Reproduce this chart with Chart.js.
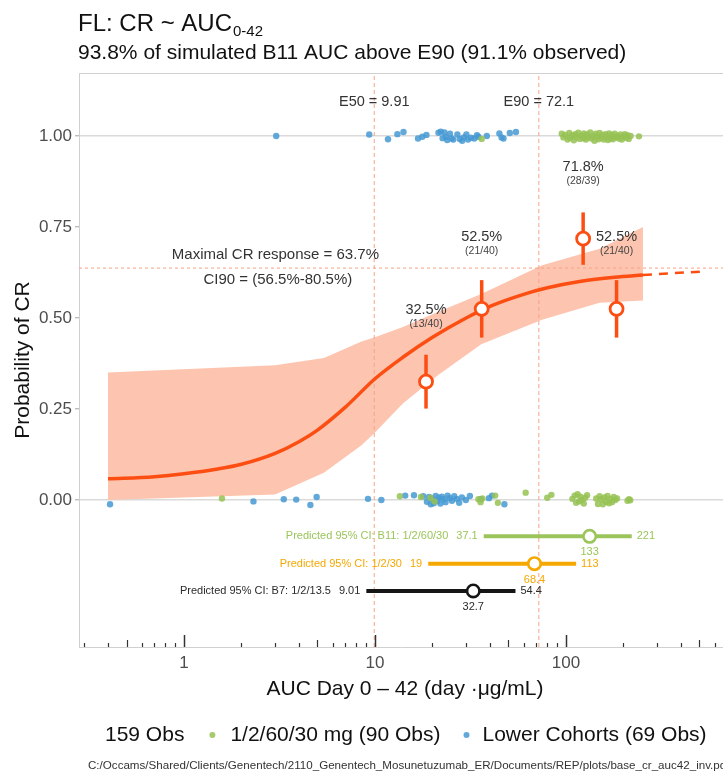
<!DOCTYPE html>
<html>
<head>
<meta charset="utf-8">
<script src="https://cdn.jsdelivr.net/npm/chart.js@4.4.1/dist/chart.umd.min.js"></script>
<style>
  html, body { margin: 0; padding: 0; background: #ffffff; }
  #wrap { width: 723px; height: 779px; position: relative; }
</style>
</head>
<body>
<div id="wrap"><canvas id="chart"></canvas></div>
<script>
const FONT = '"Liberation Sans", Arial, Helvetica, sans-serif';

// Model-predicted probability of CR versus AUC (median curve)
const curveAUC = [0.4, 0.7, 1, 1.5, 2, 3, 4, 5, 7, 10, 14, 20, 30, 40, 60, 80, 120, 180, 253];
const curveP   = [0.058, 0.064, 0.072, 0.085, 0.098, 0.128, 0.16, 0.192, 0.255, 0.333, 0.392, 0.447, 0.5, 0.532, 0.565, 0.583, 0.601, 0.612, 0.618];

// Uncertainty ribbon around the curve
const bandAUC = [0.4, 3, 5.4, 8.5, 10, 14, 21, 36, 75, 150, 253];
const bandLo  = [0.0, 0.015, 0.075, 0.15, 0.185, 0.265, 0.34, 0.428, 0.495, 0.542, 0.548];
const bandHi  = [0.35, 0.37, 0.39, 0.435, 0.447, 0.475, 0.515, 0.566, 0.645, 0.69, 0.75];

// Extrapolation beyond the observed range
const extAUC = [253, 530];
const extP   = [0.618, 0.628];

// Observed response by exposure bin
const binAUC  = [18.5, 36.2, 123, 184];
const binResp = [13, 21, 28, 21];
const binN    = [40, 40, 39, 40];
const binLo   = [0.251, 0.446, 0.646, 0.446];
const binHi   = [0.399, 0.604, 0.790, 0.604];

// Exposure-response reference values
const e50 = 9.91;
const e90 = 72.1;
const maxResp = 0.637;
const maxRespCI = [0.565, 0.805];

// Individual observations (responders near 1, non-responders near 0)
const blueTopAUC = [3.04, 9.33, 11.7, 13.1, 14.1, 16.8, 17.7, 18.6, 21.5, 22.1, 22.6, 23.1, 23.5, 23.9, 24.7, 25.2, 25.7, 27.0, 27.8, 28.6, 29.2, 30.1, 30.7, 31.8, 33.1, 34.2, 34.8, 38.5, 44.8, 46.0, 47.1, 50.8, 54.7];
const blueTopY   = [1.0, 1.004, 0.991, 1.005, 1.011, 0.993, 0.998, 1.003, 1.009, 1.012, 0.994, 1.01, 0.997, 0.989, 1.006, 0.993, 0.99, 1.004, 0.992, 0.987, 0.996, 1.004, 0.99, 0.995, 0.993, 1.002, 0.998, 1.0, 1.007, 0.996, 0.993, 1.008, 1.011];
const greenTopAUC = [36.2, 95, 97, 99, 102, 104, 105, 108, 110, 112, 113, 116, 118, 121, 123, 124, 127, 129, 131, 134, 136, 139, 141, 143, 146, 148, 150, 153, 155, 158, 161, 163, 166, 168, 171, 174, 176, 180, 183, 186, 189, 193, 196, 199, 203, 206, 210, 213, 218, 241];
const greenTopY   = [0.992, 1.006, 0.996, 1.003, 0.99, 1.008, 0.995, 1.002, 0.988, 1.005, 0.997, 1.009, 0.992, 1.001, 0.994, 1.007, 0.99, 1.004, 0.996, 1.01, 0.993, 1.0, 0.987, 1.006, 0.998, 0.991, 1.008, 0.995, 1.003, 0.99, 1.005, 0.997, 0.989, 1.007, 0.994, 1.002, 0.991, 1.006, 0.996, 1.0, 0.993, 1.004, 0.99, 0.998, 1.005, 0.995, 1.002, 0.992, 1.0, 0.999];
const blueBotAUC = [0.41, 2.31, 3.33, 3.87, 4.59, 4.95, 9.19, 10.8, 14.4, 16.0, 17.9, 18.7, 19.2, 19.6, 19.9, 20.3, 20.8, 21.2, 21.6, 22.0, 22.4, 22.9, 23.4, 24.0, 24.6, 25.3, 26.0, 26.8, 27.6, 28.5, 29.9, 31.4, 35.8, 39.5, 41.0, 47.6];
const blueBotY   = [-0.012, -0.004, 0.002, 0.001, -0.014, 0.008, 0.003, 0.0, 0.012, 0.013, 0.01, -0.005, 0.008, -0.012, 0.004, -0.009, 0.011, -0.003, 0.006, -0.01, 0.009, 0.002, -0.006, 0.012, 0.005, -0.002, 0.01, 0.003, -0.008, 0.007, 0.0, 0.011, 0.002, 0.005, 0.012, -0.012];
const greenBotAUC = [1.58, 13.5, 17.4, 19.5, 20.5, 34.8, 35.7, 36.5, 42.6, 44.0, 61.5, 79.8, 83.9, 108, 111, 113, 115, 117, 119, 121, 124, 126, 129, 144, 147, 150, 153, 156, 159, 162, 165, 168, 171, 174, 178, 181, 185, 210, 214, 217];
const greenBotY   = [0.004, 0.01, 0.008, 0.006, -0.004, 0.002, -0.006, 0.004, 0.012, -0.008, 0.02, 0.006, 0.014, 0.003, 0.012, -0.008, 0.016, -0.004, 0.009, 0.0, -0.01, 0.006, 0.013, 0.004, -0.011, 0.01, 0.002, -0.012, 0.007, -0.005, 0.011, -0.009, 0.003, -0.006, 0.008, 0.0, 0.004, -0.002, 0.002, -0.001];

// Predicted 95% CI of exposure for each regimen
const predNames = ['Predicted 95% CI: B11: 1/2/60/30', 'Predicted 95% CI: 1/2/30', 'Predicted 95% CI: B7: 1/2/13.5'];
const predLo  = [37.1, 19, 9.01];
const predMid = [133, 68.4, 32.7];
const predHi  = [221, 113, 54.4];
const predRow = [-0.1, -0.175, -0.25];

// Axis ticks
const xTicks = [1, 10, 100];
const yTicks = [0, 0.25, 0.5, 0.75, 1];
const X_MIN = 0.282, X_MAX = 664;
const Y_MIN = -0.404, Y_MAX = 1.173;

// Colours
const CURVE = '#FC4E12';
const BAND = '#FDC5AF';
const REF = '#F6A386';
const BLUE = 'rgba(70,154,212,0.85)';
const GREEN = 'rgba(150,194,84,0.85)';
const predColors = ['#9BC55B', '#F5A800', '#151515'];
const predText = ['#9BC55B', '#F5A800', '#2a2a2a'];

const pts = (xs, ys) => xs.map((x, i) => ({ x, y: ys[i] }));
const lineDs = (data, color, width, extra) => Object.assign({
  data, showLine: true, borderColor: color, borderWidth: width,
  pointRadius: 0, fill: false
}, extra || {});

const datasets = [
  // ribbon: upper edge filled down to the lower edge (next dataset)
  lineDs(pts(bandAUC, bandHi), 'rgba(0,0,0,0)', 1, { backgroundColor: BAND, fill: '+1', order: 30 }),
  lineDs(pts(bandAUC, bandLo), 'rgba(0,0,0,0)', 1, { order: 30 }),
  // reference lines
  lineDs([{ x: e50, y: Y_MIN }, { x: e50, y: Y_MAX }], REF, 1, { borderDash: [4, 3], order: 20 }),
  lineDs([{ x: e90, y: Y_MIN }, { x: e90, y: Y_MAX }], REF, 1, { borderDash: [4, 3], order: 20 }),
  lineDs([{ x: X_MIN, y: maxResp }, { x: X_MAX, y: maxResp }], REF, 1, { borderDash: [3, 3], order: 20 }),
  // observations
  { data: pts(blueTopAUC, blueTopY), backgroundColor: BLUE, borderWidth: 0, pointRadius: 3.2, order: 12 },
  { data: pts(blueBotAUC, blueBotY), backgroundColor: BLUE, borderWidth: 0, pointRadius: 3.2, order: 12 },
  { data: pts(greenTopAUC, greenTopY), backgroundColor: GREEN, borderWidth: 0, pointRadius: 3.2, order: 11 },
  { data: pts(greenBotAUC, greenBotY), backgroundColor: GREEN, borderWidth: 0, pointRadius: 3.2, order: 11 },
  // model curve and extrapolation
  lineDs(pts(curveAUC, curveP), CURVE, 3.5, { cubicInterpolationMode: 'monotone', order: 8 }),
  lineDs(pts(extAUC, extP), CURVE, 2.5, { borderDash: [9, 7], order: 8 }),
  // binned observed response with error bars
  ...binAUC.map((x, i) => lineDs([{ x, y: binLo[i] }, { x, y: binHi[i] }], CURVE, 3.5, { order: 4 })),
  { data: binAUC.map((x, i) => ({ x, y: binResp[i] / binN[i] })), backgroundColor: '#ffffff',
    borderColor: CURVE, borderWidth: 2.8, pointRadius: 6.5, order: 2 },
  // predicted exposure intervals
  ...predLo.map((lo, i) => lineDs([{ x: lo, y: predRow[i] }, { x: predHi[i], y: predRow[i] }], predColors[i], 4, { order: 4 })),
  { data: predMid.map((x, i) => ({ x, y: predRow[i] })), backgroundColor: '#ffffff',
    borderColor: predColors, borderWidth: 2.6, pointRadius: 6.2, order: 2 }
];

function put(ctx, s, x, y, size, color, align, base, family) {
  ctx.font = size + 'px ' + (family || FONT);
  ctx.fillStyle = color;
  ctx.textAlign = align || 'left';
  ctx.textBaseline = base || 'alphabetic';
  ctx.fillText(s, x, y);
  return ctx.measureText(s).width;
}

const decorations = {
  id: 'decorations',
  afterDatasetsDraw(chart) {
    const { ctx, chartArea: a, scales: { x } } = chart;
    ctx.save();
    // panel top edge
    ctx.strokeStyle = '#d0d0d0';
    ctx.lineWidth = 1;
    ctx.beginPath(); ctx.moveTo(a.left, a.top + 0.5); ctx.lineTo(a.right, a.top + 0.5); ctx.stroke();
    // logarithmic tick marks along the bottom
    ctx.strokeStyle = '#333333';
    for (let k = -1; k <= 2; k++) {
      for (let m = 1; m <= 9; m++) {
        const v = m * Math.pow(10, k);
        if (v < X_MIN || v > X_MAX) continue;
        const px = Math.round(x.getPixelForValue(v)) + 0.5;
        const len = m === 1 ? 12 : (m === 5 ? 7 : 4);
        ctx.lineWidth = m === 1 ? 1.5 : 1.2;
        ctx.beginPath(); ctx.moveTo(px, a.bottom); ctx.lineTo(px, a.bottom - len); ctx.stroke();
      }
    }
    ctx.restore();
  },
  afterDraw(chart) {
    const { ctx, chartArea: a, scales: { x, y } } = chart;
    ctx.save();
    // titles
    const w = put(ctx, 'FL: CR ~ AUC', 78, 31, 24, '#111111');
    put(ctx, '0-42', 78 + w + 1, 36, 15, '#111111');
    put(ctx, '93.8% of simulated B11 AUC above E90 (91.1% observed)', 78, 59, 21, '#111111');

    // axis titles
    put(ctx, 'AUC Day 0 \u2013 42 (day \u00B7\u03BCg/mL)', (a.left + a.right) / 2 + 4, 689, 21, '#111111', 'center', 'middle');
    ctx.save();
    ctx.translate(23, (a.top + a.bottom) / 2);
    ctx.rotate(-Math.PI / 2);
    put(ctx, 'Probability of CR', 0, 0, 21, '#111111', 'center', 'middle');
    ctx.restore();

    // reference labels
    put(ctx, 'E50 = ' + e50, x.getPixelForValue(e50), y.getPixelForValue(1.094), 14.5, '#333333', 'center', 'middle');
    put(ctx, 'E90 = ' + e90, x.getPixelForValue(e90), y.getPixelForValue(1.094), 14.5, '#333333', 'center', 'middle');
    const pct = v => (v * 100).toFixed(1) + '%';
    put(ctx, 'Maximal CR response = ' + pct(maxResp), x.getPixelForValue(3.01), y.getPixelForValue(0.673), 15, '#333333', 'center', 'middle');
    put(ctx, 'CI90 = (' + pct(maxRespCI[0]) + '-' + pct(maxRespCI[1]) + ')', x.getPixelForValue(3.1), y.getPixelForValue(0.604), 15, '#333333', 'center', 'middle');

    // binned response labels
    binAUC.forEach((v, i) => {
      const px = x.getPixelForValue(v);
      const py = y.getPixelForValue(binResp[i] / binN[i]) - 72;
      put(ctx, pct(binResp[i] / binN[i]), px, py, 14.5, '#333333', 'center', 'middle');
      put(ctx, '(' + binResp[i] + '/' + binN[i] + ')', px, py + 14, 10.5, '#444444', 'center', 'middle');
    });

    // predicted exposure interval labels
    predNames.forEach((name, i) => {
      const py = y.getPixelForValue(predRow[i]);
      const xl = x.getPixelForValue(predLo[i]);
      const nw = put(ctx, String(predLo[i]), xl - 6, py, 11, predText[i], 'right', 'middle');
      put(ctx, name, xl - 6 - nw - 8, py, 11, predText[i], 'right', 'middle');
      put(ctx, String(predHi[i]), x.getPixelForValue(predHi[i]) + 5, py, 11, predText[i], 'left', 'middle');
      put(ctx, String(predMid[i]), x.getPixelForValue(predMid[i]), py + 16, 11, predText[i], 'center', 'middle');
    });

    // legend
    const total = blueTopAUC.length + blueBotAUC.length + greenTopAUC.length + greenBotAUC.length;
    const nGreen = greenTopAUC.length + greenBotAUC.length;
    const nBlue = blueTopAUC.length + blueBotAUC.length;
    const ly = 735;
    let lx = 105;
    lx += put(ctx, total + ' Obs', lx, ly, 21, '#111111', 'left', 'middle') + 28;
    ctx.fillStyle = GREEN; ctx.beginPath(); ctx.arc(lx, ly, 3, 0, Math.PI * 2); ctx.fill();
    lx += 18;
    lx += put(ctx, '1/2/60/30 mg (' + nGreen + ' Obs)', lx, ly, 21, '#111111', 'left', 'middle') + 26;
    ctx.fillStyle = BLUE; ctx.beginPath(); ctx.arc(lx, ly, 3, 0, Math.PI * 2); ctx.fill();
    lx += 16;
    put(ctx, 'Lower Cohorts (' + nBlue + ' Obs)', lx, ly, 21, '#111111', 'left', 'middle');

    // source path
    put(ctx, 'C:/Occams/Shared/Clients/Genentech/2110_Genentech_Mosunetuzumab_ER/Documents/REP/plots/base_cr_auc42_inv.pdf', 88, 766, 11.6, '#333333', 'left', 'middle');
    ctx.restore();
  }
};

new Chart(document.getElementById('chart'), {
  type: 'scatter',
  data: { datasets },
  options: {
    responsive: true,
    maintainAspectRatio: false,
    devicePixelRatio: 1,
    animation: false,
    events: [],
    layout: { autoPadding: false, padding: { top: 73, left: 0, right: 0, bottom: 0 } },
    plugins: { legend: { display: false }, tooltip: { enabled: false } },
    scales: {
      x: {
        type: 'logarithmic',
        min: X_MIN, max: X_MAX,
        afterBuildTicks: s => { s.ticks = xTicks.map(v => ({ value: v })); },
        afterFit: s => { s.height = 132; s.paddingLeft = 0; s.paddingRight = 0; },
        ticks: { autoSkip: false, maxRotation: 0, padding: 6, color: '#4d4d4d',
                 font: { family: FONT, size: 17 }, callback: v => String(v) },
        grid: { display: false, drawTicks: false },
        border: { display: true, color: '#d0d0d0', width: 1 }
      },
      y: {
        min: Y_MIN, max: Y_MAX,
        afterBuildTicks: s => { s.ticks = yTicks.map(v => ({ value: v })); },
        afterFit: s => { s.width = 79; s.paddingTop = 0; s.paddingBottom = 0; },
        ticks: { padding: 3, color: '#4d4d4d', font: { family: FONT, size: 17 },
                 callback: v => Number(v).toFixed(2) },
        grid: {
          color: c => (c.tick && (c.tick.value === 0 || c.tick.value === 1)) ? '#dadada' : 'rgba(0,0,0,0)',
          lineWidth: 1.4, tickColor: '#bdbdbd', tickLength: 4, drawTicks: true
        },
        border: { display: true, color: '#d0d0d0', width: 1 }
      }
    }
  },
  plugins: [decorations]
});
</script>
</body>
</html>
